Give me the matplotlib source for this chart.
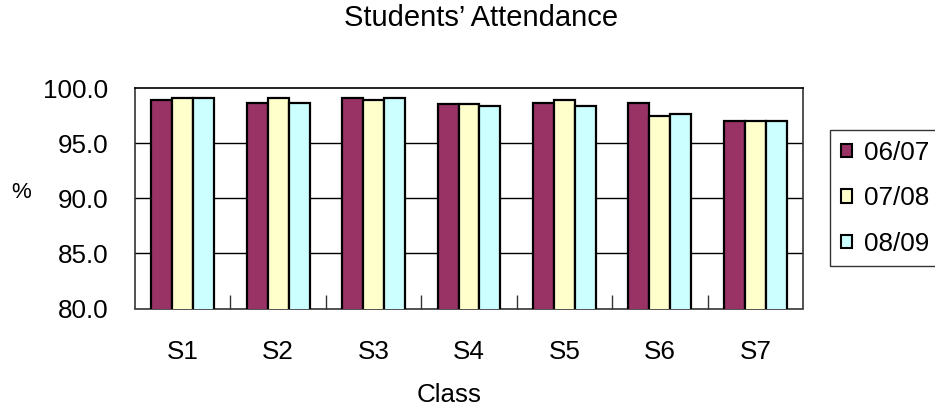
import matplotlib
matplotlib.use("Agg")
import matplotlib.pyplot as plt
from matplotlib.patches import Patch
import numpy as np

plt.rcParams['font.family'] = ['Liberation Sans', 'DejaVu Sans']

# data
classes = ["S1", "S2", "S3", "S4", "S5", "S6", "S7"]
years = ["06/07", "07/08", "08/09"]
att_0607 = [98.9, 98.7, 99.1, 98.6, 98.7, 98.7, 97.0]
att_0708 = [99.1, 99.1, 98.9, 98.6, 98.9, 97.5, 97.0]
att_0809 = [99.1, 98.7, 99.1, 98.4, 98.4, 97.7, 97.0]
yticks = [80.0, 85.0, 90.0, 95.0, 100.0]

colors = ["#993366", "#FFFFCC", "#CCFFFF"]
series = [att_0607, att_0708, att_0809]

fig = plt.figure(figsize=(9.35, 4.09), dpi=100)
ax = fig.add_axes([135/935, 1-308.5/409, (803-135)/935, (308.5-88.3)/409])

x = np.arange(len(classes))
w = 0.22
for i in range(3):
    ax.bar(x + (i-1)*w, series[i], w, color=colors[i], edgecolor="black",
           linewidth=1.6, zorder=3)

ax.set_ylim(80, 100)
ax.set_xlim(-0.5, len(classes)-0.5)
ax.set_yticks(yticks)
ax.set_yticklabels(["%.1f" % v for v in yticks], fontsize=18.7)
ax.tick_params(axis='y', length=0, pad=19)
for v in yticks[1:-1]:
    ax.axhline(v, color="black", linewidth=1, zorder=1)

# category boundary ticks inside, labels at centres
ax.set_xticks(np.arange(0.5, len(classes)-1, 1))
ax.set_xticklabels([])
ax.tick_params(axis='x', which='major', direction='in', length=10, width=1, color='#333333')
ax.set_xticks(x, minor=True)
ax.set_xticklabels(classes, minor=True, fontsize=18.7)
ax.tick_params(axis='x', which='minor', length=0, pad=23)

for s in ax.spines.values():
    s.set_color('#333333')
    s.set_linewidth(1.2)
ax.spines['top'].set_color('black')

fig.text(481/935, 1-18/409, "Students\u2019 Attendance", fontsize=21, ha='center', va='center')
fig.text(449/935, 1-401.7/409, "Class", fontsize=18.7, ha='center', va='baseline')
fig.text(21/935, 1-193/409, "%", fontsize=16, ha='center', va='center')

handles = [Patch(facecolor=colors[i], edgecolor='black', linewidth=1.5) for i in range(3)]
leg = fig.legend(handles, years, loc='upper left', bbox_to_anchor=(830/935, 1-130/409),
                 fontsize=18.7, frameon=True, fancybox=False, edgecolor='black',
                 handlelength=0.42, handleheight=0.42, handletextpad=0.45,
                 borderpad=0.42, labelspacing=0.82, borderaxespad=0)
leg.get_frame().set_linewidth(1)

fig.savefig("out.png", dpi=100)
